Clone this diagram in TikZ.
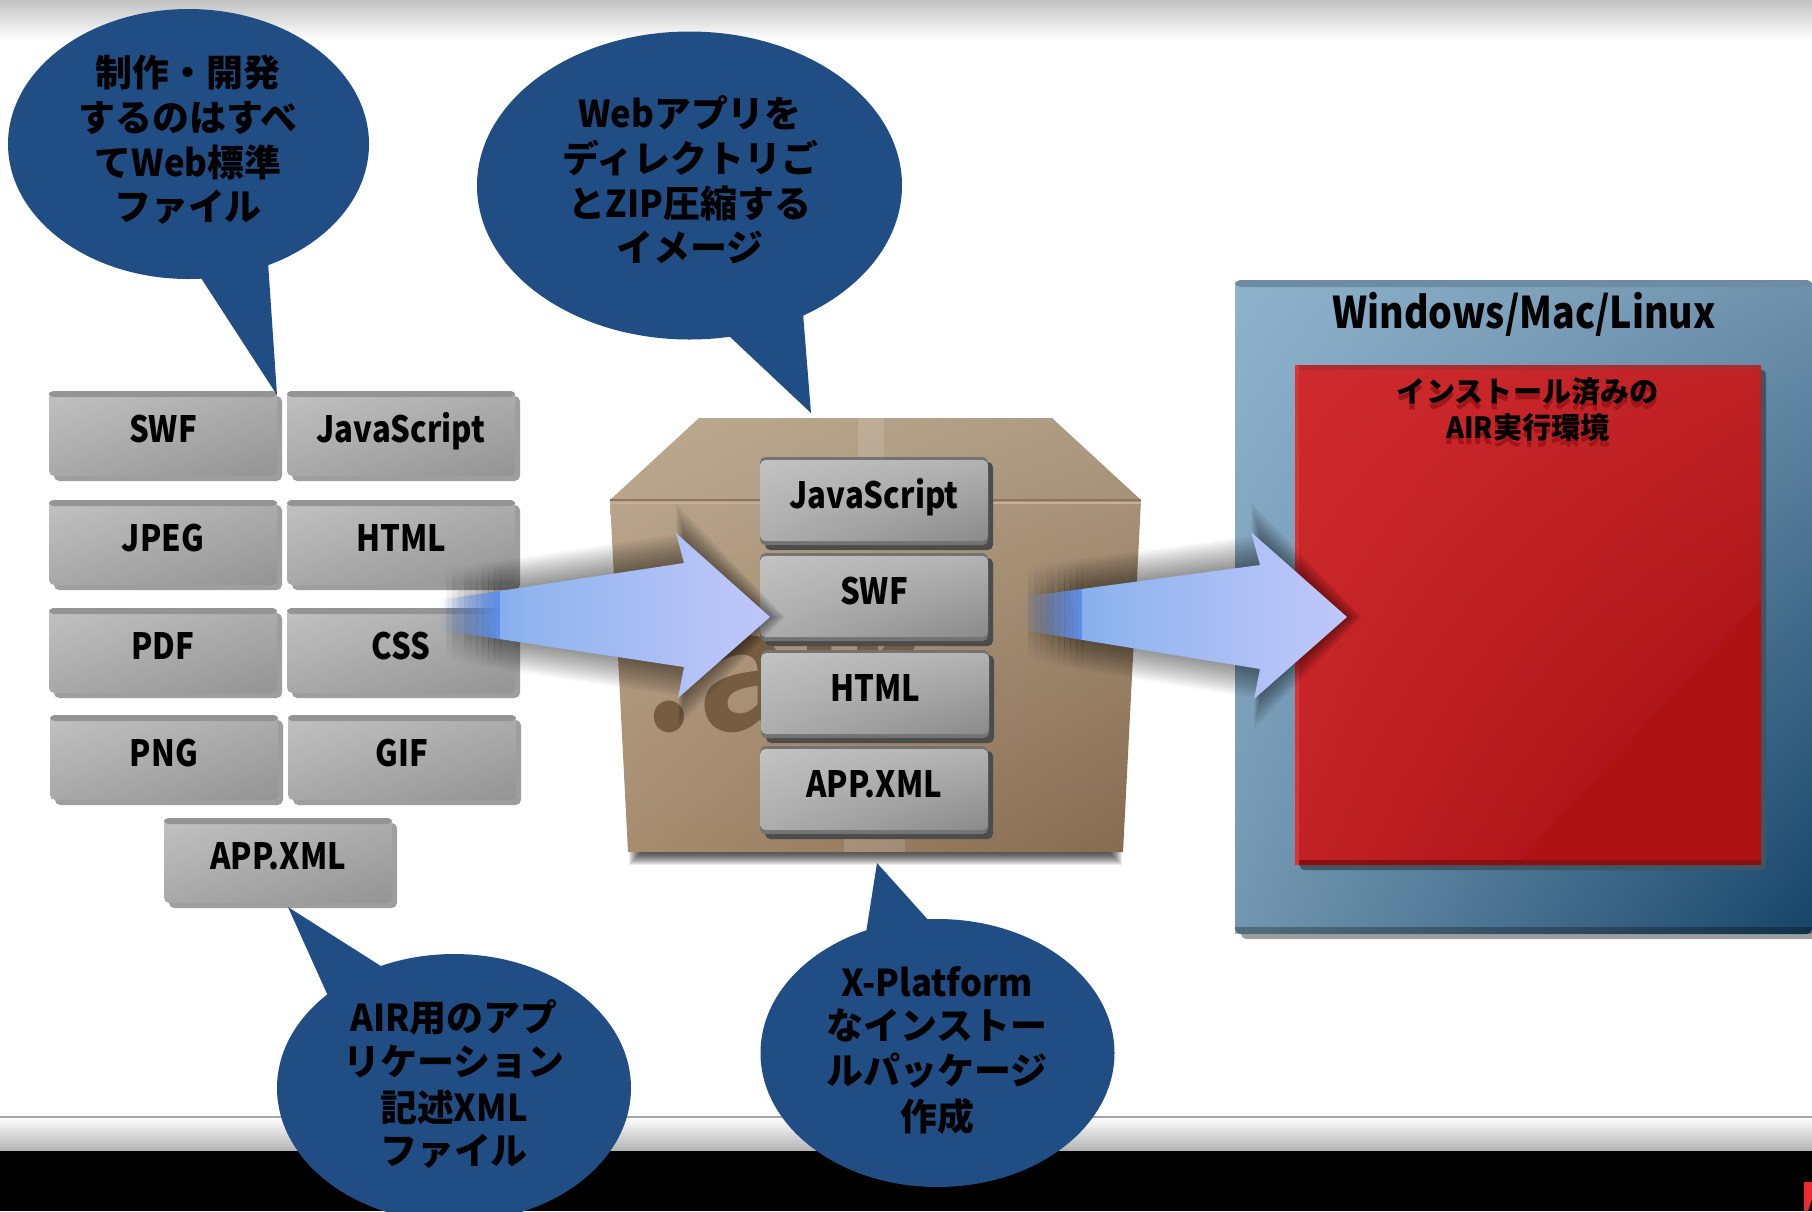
\documentclass[tikz,border=0pt]{standalone}
\usepackage{fontspec}
\usetikzlibrary{shadings}
\newfontfamily\jpf{Noto Sans CJK JP}[BoldFont=* Black]
\newfontfamily\markf{Noto Sans CJK JP}[BoldFont=* Bold]
\newfontfamily\latf{Noto Sans CJK JP}[BoldFont=* Black,FakeStretch=0.86]
\newfontfamily\latw{Noto Sans CJK JP}[BoldFont=* Black,FakeStretch=0.94]
\newcommand{\lt}[1]{{\latw\bfseries #1}}
\definecolor{navy}{HTML}{214D85}
\newcommand{\dc}[1]{\definecolor{HTML#1}{HTML}{#1}}
\dc{4D7FE0}\dc{5F8FE8}\dc{8FB4EE}\dc{B8C4F8}\dc{CCCCFF}\dc{ED2A34}\dc{8FB3CC}\dc{6F92AD}\dc{7497B0}\dc{154468}\dc{6C8CA5}
\dc{3F5568}\dc{AE1212}\dc{CF2A2D}\dc{C02226}\dc{C22226}\dc{9E0A0C}\dc{B12A2E}\dc{8A0F10}\dc{DB3338}\dc{A01518}
\dc{BCAA91}\dc{AC9A80}\dc{A88D70}\dc{866A50}\dc{8E7658}\dc{C2B197}\dc{765C40}
\pgfdeclarehorizontalshading{arrowsh}{100bp}{color(0bp)=(HTML5F8FE8); color(30bp)=(HTML8FB4EE); color(65bp)=(HTMLB8C4F8); color(100bp)=(HTMLCCCCFF)}
\tikzset{
  btnlabel/.style={font=\latf\bfseries\fontsize{10.3}{12}\selectfont,text=black,inner sep=0pt,anchor=base},
  bubble/.style={fill=navy},
  bubbletext/.style={font=\jpf\bfseries\fontsize{10.5}{12}\selectfont,text=black,inner sep=0pt},
}
\newcommand{\lbtn}[6]{%
  \fill[rounded corners=1.5pt,fill=black!38] (#2+5,#3+5) rectangle (#2+#4+5,#3+#5+5);
  \shade[rounded corners=1.5pt,upper left=black!24,upper right=black!32,lower left=black!34,lower right=black!42] (#2,#3) rectangle (#2+#4,#3+#5);
  \fill[rounded corners=1.2pt,fill=black!42] (#2,#3) rectangle (#2+#4,#3+6);
  \node[btnlabel] (#1) at (#2+#4/2,#3+#5/2+9) {#6};}
\newcommand{\cbtn}[6]{%
  \fill[rounded corners=1.5pt,fill=black!70] (#2+5,#3+5) rectangle (#2+#4+5,#3+#5+5);
  \fill[rounded corners=1.5pt,fill=black!55] (#2,#3) rectangle (#2+#4,#3+#5);
  \shade[rounded corners=1.5pt,upper left=black!24,upper right=black!30,lower left=black!32,lower right=black!46] (#2,#3+3) rectangle (#2+#4,#3+#5-4);
  \node[btnlabel] (#1) at (#2+#4/2,#3+#5/2+7.5) {#6};}
% arrow: tail x, tail top, tail bottom, join x, join top, join bottom,
% upper tip x,y, point x,y, lower tip x,y
\newcommand{\softarrow}[6]{\softarrowb{#1}{#2}{#3}{#4}{#5}{#6}}
\newcommand{\softarrowb}[6]{%
  \def\tx{#1}\def\ty{#2}\def\tb{#3}\def\jx{#4}\def\jt{#5}\def\jb{#6}\softarrowc}
\newcommand{\softarrowc}[6]{%
  \pgfmathsetmacro{\ss}{(\jt-\ty)/(\jx-\tx)}%
  \pgfmathsetmacro{\sb}{(\jb-\tb)/(\jx-\tx)}%
  \pgfmathsetmacro{\mx}{\tx+60}%
  \pgfmathsetmacro{\mt}{\ty+60*\ss}%
  \pgfmathsetmacro{\mb}{\tb+60*\sb}%
  % soft shadow
  \foreach \k in {2,4,...,30}{%
    \foreach \i in {0,...,9}{%
      \pgfmathsetmacro{\xa}{\tx+6*\i}\pgfmathsetmacro{\xb}{\xa+6}%
      \pgfmathsetmacro{\op}{.032*(\i+.5)/10}%
      \fill[black,opacity=\op] (\xa,\ty+6*\i*\ss-\k) -- (\xb,\ty+6*\i*\ss+6*\ss-\k) -- (\xb,\tb+6*\i*\sb+6*\sb+\k) -- (\xa,\tb+6*\i*\sb+\k) -- cycle;
    }%
    \fill[black,opacity=.032] (\mx,\mt-\k) -- (\jx,\jt-\k) -- (#1,#2-\k) -- (#3+\k/2,#4) -- (#5,#6+\k) -- (\jx,\jb+\k) -- (\mx,\mb+\k) -- cycle;
  }%
  % body: faded tail in slices, then the shaded rest
  \foreach \i in {0,...,14}{%
    \pgfmathsetmacro{\xa}{\tx+4*\i}\pgfmathsetmacro{\xb}{\xa+4}%
    \pgfmathsetmacro{\op}{(\i+.5)/15}%
    \fill[HTML5F8FE8,opacity=\op] (\xa,\ty+4*\i*\ss) -- (\xb,\ty+4*\i*\ss+4*\ss) -- (\xb,\tb+4*\i*\sb+4*\sb) -- (\xa,\tb+4*\i*\sb) -- cycle;
  }%
  \shade[shading=arrowsh] (\mx,\mt) -- (\jx,\jt) -- (#1,#2) -- (#3,#4) -- (#5,#6) -- (\jx,\jb) -- (\mx,\mb) -- cycle;
}
\begin{document}
\begin{tikzpicture}[x=0.01cm,y=-0.01cm]
\useasboundingbox (0,0) rectangle (1812,1211);
\clip (0,0) rectangle (1812,1211);
\fill[white] (0,0) rectangle (1812,1211);
% top band and bottom bar
\shade[top color=black!24,bottom color=white] (0,0) rectangle (1812,40);
\shade[top color=white,bottom color=black!30] (0,1117) rectangle (1812,1151);
\draw[black!35,line width=0.3pt] (0,1117) -- (1812,1117);
\fill[black] (0,1151) rectangle (1812,1211);
\fill[HTMLED2A34] (1804,1182) -- (1812,1182) -- (1812,1199) -- (1808,1211) -- (1804,1211) -- cycle;
% blue panel
\fill[black!38,rounded corners=1.5pt] (1241,300) rectangle (1830,939);
\shade[upper left=HTML8FB3CC,upper right=HTML6F92AD,lower left=HTML7497B0,lower right=HTML154468,rounded corners=1.5pt] (1235,280) rectangle (1812,934);
\fill[HTML6C8CA5,rounded corners=1.5pt] (1235,280) rectangle (1812,287);
\fill[black,opacity=.28] (1235,927) rectangle (1812,934);
\node[font=\latf\bfseries\fontsize{12.4}{14}\selectfont,inner sep=0pt] (osname) at (1524,314) {Windows/Mac/Linux};
% red panel
\fill[HTML3F5568,rounded corners=1.2pt] (1300,370) rectangle (1766,870);
\fill[HTMLAE1212,rounded corners=1.2pt] (1295,365) rectangle (1761,865);
\shade[upper left=HTMLCF2A2D,upper right=HTMLC02226,lower left=HTMLC22226,lower right=HTML9E0A0C] (1295,365) -- (1761,365) -- (1761,600) -- (1516,865) -- (1295,865) -- cycle;
\fill[HTMLB12A2E] (1295,365) rectangle (1761,370);
\fill[HTML8A0F10] (1295,860) rectangle (1761,865);
\fill[HTMLDB3338] (1295,365) rectangle (1299,865);
\node[font=\jpf\bfseries\fontsize{8.3}{10}\selectfont,text=HTMLA01518,inner sep=0pt] (redlineashadow) at (1528,398) {インストール済みの};
\node[font=\jpf\bfseries\fontsize{8.3}{10}\selectfont,text=HTMLA01518,inner sep=0pt] (redlinebshadow) at (1528,433) {\lt{AIR}実行環境};
\node[font=\jpf\bfseries\fontsize{8.3}{10}\selectfont,inner sep=0pt] (redlinea) at (1528,392) {インストール済みの};
\node[font=\jpf\bfseries\fontsize{8.3}{10}\selectfont,inner sep=0pt] (redlineb) at (1528,427) {\lt{AIR}実行環境};
% box
\foreach \k in {1,...,13}{\fill[black,opacity=.08] (628+\k,852) rectangle (1123-\k,852+14-\k);}
\shade[upper left=HTMLBCAA91,upper right=HTMLAC9A80,lower left=HTMLA88D70,lower right=HTML866A50] (699,418) -- (1052,418) -- (1141,500) -- (1123,852) -- (628,852) -- (610,500) -- cycle;
\fill[white,opacity=.12] (858,418) rectangle (884,500);
\fill[white,opacity=.14] (844,828) rectangle (905,852);
\draw[HTML8E7658,line width=0.5pt] (610,500) -- (1141,500);
\draw[HTMLC2B197,line width=0.3pt] (610,503) -- (1141,503);
\node[font=\markf\bfseries\fontsize{47}{50}\selectfont,text=HTML765C40,inner sep=0pt,anchor=base west] (airmark) at (642,730) {.air};
% left buttons
\lbtn{a1}{49}{391}{228}{85}{SWF}
\lbtn{a2}{287}{391}{228}{85}{JavaScript}
\lbtn{b1}{49}{500}{228}{85}{JPEG}
\lbtn{b2}{287}{500}{228}{85}{HTML}
\lbtn{c1}{49}{608}{228}{85}{PDF}
\lbtn{c2}{287}{608}{228}{85}{CSS}
\lbtn{d1}{50}{715}{228}{85}{PNG}
\lbtn{d2}{288}{715}{228}{85}{GIF}
\lbtn{e1}{164}{818}{228}{85}{APP.XML}
% centre buttons
\cbtn{f1}{760}{457}{228}{88}{JavaScript}
\cbtn{f2}{760}{553}{228}{88}{SWF}
\cbtn{f3}{761}{650}{228}{88}{HTML}
\cbtn{f4}{760}{746}{228}{88}{APP.XML}
% arrows
\softarrow{440}{600}{630}{684}{563}{667}{676}{533}{770}{617}{678}{698}
\softarrow{1022}{597}{630}{1260}{565}{669}{1251}{532}{1347}{617}{1254}{699}
% bubbles
\fill[bubble] (188.5,144) ellipse [x radius=180.5,y radius=135];
\fill[bubble] (201,278) -- (277,395) -- (268,262) -- cycle;
\fill[bubble] (689.5,185.5) ellipse [x radius=212.5,y radius=154];
\fill[bubble] (728,335) -- (811,413) -- (803,313) -- cycle;
\fill[bubble] (454,1088) ellipse [x radius=177,y radius=134];
\fill[bubble] (328,996) -- (288,907) -- (384,968) -- cycle;
\fill[bubble] (937.5,1053) ellipse [x radius=177,y radius=134];
\fill[bubble] (866,933) -- (877,863) -- (930,922) -- cycle;
% bubble texts
\node[bubbletext] (t1a) at (188,73) {制作・開発};
\node[bubbletext] (t1b) at (188,118) {するのはすべ};
\node[bubbletext] (t1c) at (188,162) {て\lt{Web}標準};
\node[bubbletext] (t1d) at (188,207) {ファイル};
\node[bubbletext] (t2a) at (690,113) {\lt{Web}アプリを};
\node[bubbletext] (t2b) at (690,158) {ディレクトリご};
\node[bubbletext] (t2c) at (690,203) {と\lt{ZIP}圧縮する};
\node[bubbletext] (t2d) at (690,247) {イメージ};
\node[bubbletext] (t3a) at (454,1017) {\lt{AIR}用のアプ};
\node[bubbletext] (t3b) at (454,1062) {リケーション};
\node[bubbletext] (t3c) at (454,1107) {記述\lt{XML}};
\node[bubbletext] (t3d) at (454,1151) {ファイル};
\node[bubbletext] (t4a) at (937,982) {\lt{X-Platform}};
\node[bubbletext] (t4b) at (937,1026) {なインストー};
\node[bubbletext] (t4c) at (937,1071) {ルパッケージ};
\node[bubbletext] (t4d) at (937,1116) {作成};
\end{tikzpicture}
\end{document}
